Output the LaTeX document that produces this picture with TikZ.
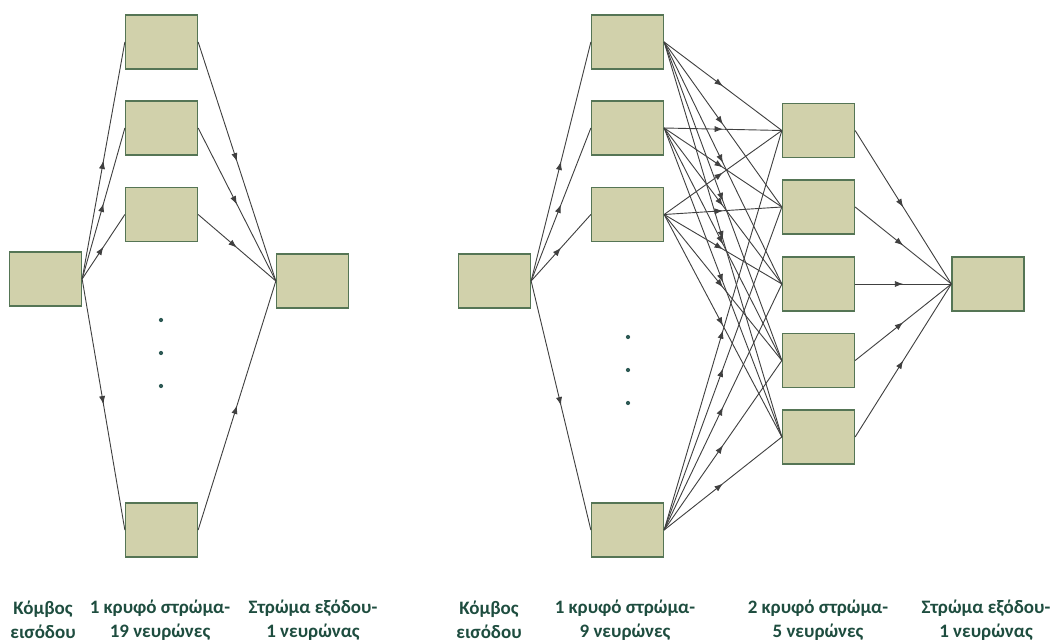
\documentclass[tikz,border=0pt]{standalone}
\usepackage{fontspec}
\setmainfont{Carlito}
\usepackage{xcolor}
\usetikzlibrary{arrows.meta,decorations.markings}
\definecolor{nodefill}{HTML}{D1D1AB}
\definecolor{nodeborder}{HTML}{557555}
\definecolor{linegray}{HTML}{404040}
\definecolor{labelgreen}{HTML}{1E4D3F}
\definecolor{dotteal}{HTML}{2E5A55}

\begin{document}
\begin{tikzpicture}[x=0.025cm,y=-0.025cm,
    neuron/.style={draw=nodeborder,fill=nodefill,line width=0.9pt,minimum width=1.8cm,minimum height=1.35cm,inner sep=0pt},
    arrow/.style={draw=linegray,line width=0.65pt,postaction={decorate},
        decoration={markings,mark=at position 0.5 with {\arrow{Latex[length=6pt,width=4.4pt]}}}},
    caption/.style={font=\bfseries\fontsize{13.5}{17}\selectfont,text=labelgreen,align=center},
    dot/.style={circle,fill=dotteal,inner sep=0pt,minimum size=3pt}
]
    \useasboundingbox (0,0) rectangle (1054,643);
    % Left network: one hidden layer
    \node[neuron] (inL) at (45.5,279) {};
    \node[neuron] (hidL1) at (161.5,42) {};
    \node[neuron] (hidL2) at (161.5,128) {};
    \node[neuron] (hidL3) at (161.5,214.5) {};
    \node[neuron] (hidL4) at (161.5,530) {};
    \node[neuron] (outL) at (312.5,281) {};
    \node[dot] (dotL1) at (161,320) {};
    \node[dot] (dotL2) at (161,353) {};
    \node[dot] (dotL3) at (161,386) {};
    % Right network: two hidden layers
    \node[neuron] (inR) at (494.5,281) {};
    \node[neuron] (hidR1) at (627.5,42) {};
    \node[neuron] (hidR2) at (627.5,128) {};
    \node[neuron] (hidR3) at (627.5,214.5) {};
    \node[neuron] (hidR4) at (627.5,530) {};
    \node[neuron] (hidS1) at (818.5,130.5) {};
    \node[neuron] (hidS2) at (818.5,207) {};
    \node[neuron] (hidS3) at (818.5,284) {};
    \node[neuron] (hidS4) at (818.5,360.5) {};
    \node[neuron] (hidS5) at (818.5,437) {};
    \node[neuron] (outR) at (988,284) {};
    \node[dot] (dotR1) at (628,337) {};
    \node[dot] (dotR2) at (628,370) {};
    \node[dot] (dotR3) at (628,403) {};
    % Arrows
    \foreach \i in {1,...,4} {
        \draw[arrow] (inL.east) -- (hidL\i.west);
        \draw[arrow] (hidL\i.east) -- (outL.west);
        \draw[arrow] (inR.east) -- (hidR\i.west);
        \foreach \j in {1,...,5}
            \draw[arrow] (hidR\i.east) -- (hidS\j.west);
    }
    \foreach \j in {1,...,5}
        \draw[arrow] (hidS\j.east) -- (outR.west);
    % Labels
    \node[caption] (capInL) at (43,620) {Κόμβος\\εισόδου};
    \node[caption] (capHidL) at (160,620) {1 κρυφό στρώμα-\\19 νευρώνες};
    \node[caption] (capOutL) at (313,620) {Στρώμα εξόδου-\\1 νευρώνας};
    \node[caption] (capInR) at (489,620) {Κόμβος\\εισόδου};
    \node[caption] (capHidR) at (625,620) {1 κρυφό στρώμα-\\9 νευρώνες};
    \node[caption] (capHidS) at (818,620) {2 κρυφό στρώμα-\\5 νευρώνες};
    \node[caption] (capOutR) at (986,620) {Στρώμα εξόδου-\\1 νευρώνας};
\end{tikzpicture}
\end{document}
